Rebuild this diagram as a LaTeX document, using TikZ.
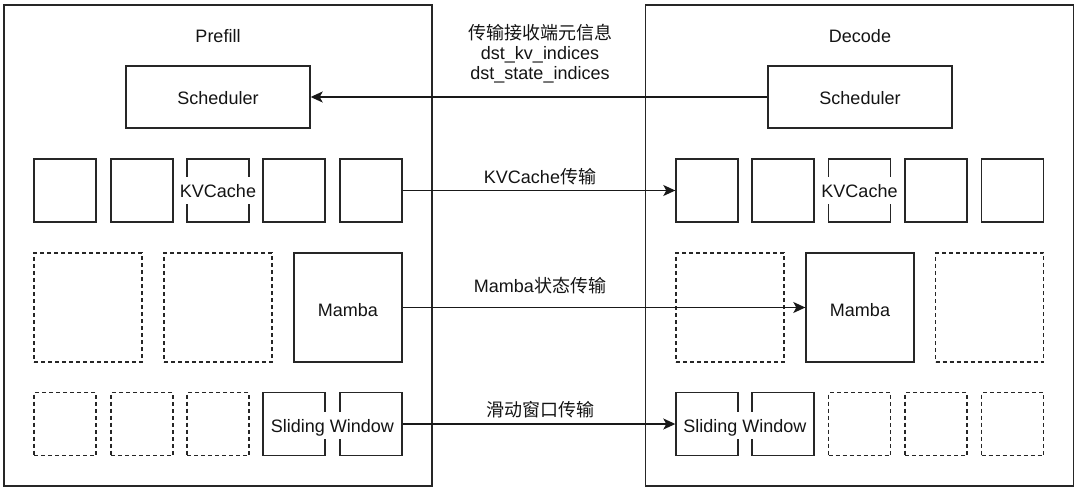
\documentclass[tikz,border=0pt]{standalone}
\usepackage{fontspec}
\setmainfont{Liberation Sans}
\newfontfamily\cjk{Noto Sans CJK SC}
\usetikzlibrary{arrows.meta}
\begin{document}
\begin{tikzpicture}[x=1pt,y=-1pt,
  every node/.style={font=\fontsize{18}{20.5}\selectfont, text=black!92},
  frame/.style={draw=black!85, line width=1.4pt, fill=white, inner sep=0pt},
  sq/.style={frame, minimum width=62pt, minimum height=63pt},
  bigsq/.style={frame, minimum width=108pt, minimum height=109pt},
  dashsq/.style={sq, dash pattern=on 4pt off 3pt},
  dashbig/.style={bigsq, dash pattern=on 4pt off 3pt},
  container/.style={frame, minimum width=428pt, minimum height=481pt},
  cover/.style={fill=white, inner xsep=1pt, inner ysep=5pt, text height=15.5pt, text depth=1.5pt},
  txt/.style={inner sep=0pt, anchor=base},
  conn/.style={draw=black!90, line width=1.4pt, -{Stealth[length=12pt,width=11pt,inset=3pt]}}
]
\useasboundingbox (0,0) rectangle (1080,492);
\fill[white] (0,0) rectangle (1080,492);

% containers
\node[container] (prefill) at (218,245.5) {};
\node[container] (decode) at (859.5,245.5) {};
\node[txt] (prefillT) at (218,43) {Prefill};
\node[txt] (decodeT) at (860,43) {Decode};

% schedulers
\node[frame, minimum width=184pt, minimum height=62pt] (schedL) at (218,97) {};
\node[frame, minimum width=184pt, minimum height=62pt] (schedR) at (860,97) {};
\node[txt] (schedLT) at (218,105) {Scheduler};
\node[txt] (schedRT) at (860,105) {Scheduler};

% KV row left
\node[sq] (kl1) at (65,190.5) {};
\node[sq] (kl2) at (142,190.5) {};
\node[sq] (kl3) at (218,190.5) {};
\node[sq] (kl4) at (294,190.5) {};
\node[sq] (kl5) at (371,190.5) {};
\node[cover] (kvL) at (218,190.5) {KVCache};
% KV row right
\node[sq] (kr1) at (707,190.5) {};
\node[sq] (kr2) at (783,190.5) {};
\node[sq] (kr3) at (859.5,190.5) {};
\node[sq] (kr4) at (936,190.5) {};
\node[sq] (kr5) at (1012.5,190.5) {};
\node[cover] (kvR) at (859.5,190.5) {KVCache};

% Mamba row
\node[dashbig] (ml1) at (88,307.5) {};
\node[dashbig] (ml2) at (218,307.5) {};
\node[bigsq] (mambaL) at (348,307.5) {};
\node[dashbig] (mr1) at (730,307.5) {};
\node[bigsq] (mambaR) at (860,307.5) {};
\node[dashbig] (mr3) at (989.5,307.5) {};
\node[txt] (mambaLT) at (348,316) {Mamba};
\node[txt] (mambaRT) at (860,316) {Mamba};

% Sliding row
\node[dashsq] (sl1) at (65,424) {};
\node[dashsq] (sl2) at (142,424) {};
\node[dashsq] (sl3) at (218,424) {};
\node[sq] (sl4) at (294,424) {};
\node[sq] (sl5) at (371,424) {};
\node[cover] (swL) at (332.5,425) {Sliding Window};
\node[sq] (sr1) at (707,424) {};
\node[sq] (sr2) at (783,424) {};
\node[dashsq] (sr3) at (859.5,424) {};
\node[dashsq] (sr4) at (936,424) {};
\node[dashsq] (sr5) at (1012.5,424) {};
\node[cover] (swR) at (745,425) {Sliding Window};

% connectors
\draw[conn] (schedR.west) -- (schedL.east);
\draw[conn] (kl5.east) -- (kr1.west);
\draw[conn] (mambaL.east) -- (mambaR.west);
\draw[conn] (sl5.east) -- (sr1.west);

% connector labels
\node[txt] (metaT1) at (540,39.5) {\cjk 传输接收端元信息};
\node[txt] (metaT2) at (540,59.5) {dst\_kv\_indices};
\node[txt] (metaT3) at (540,80) {dst\_state\_indices};
\node[txt] (kvT) at (540,184) {KVCache{\cjk 传输}};
\node[txt] (mambaT) at (540,292.5) {Mamba{\cjk 状态传输}};
\node[txt] (swT) at (540,416.5) {\cjk 滑动窗口传输};
\end{tikzpicture}
\end{document}
